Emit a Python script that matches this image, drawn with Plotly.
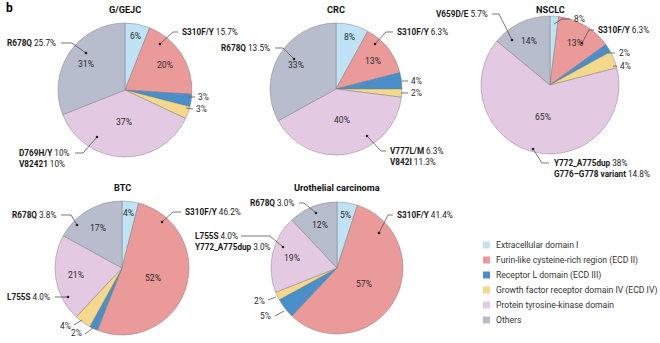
import math
import plotly.graph_objects as go

W, H = 660, 343

# ---------------- data ----------------
domain_names = [
    "Extracellular domain I",
    "Furin-like cysteine-rich region (ECD II)",
    "Receptor L domain (ECD III)",
    "Growth factor receptor domain IV (ECD IV)",
    "Protein tyrosine-kinase domain",
    "Others",
]
cancer_types = ["G/GEJC", "CRC", "NSCLC", "BTC", "Urothelial carcinoma"]

gejc_values = [6, 20, 3, 3, 37, 31]
crc_values = [8, 13, 4, 2, 40, 33]
nsclc_values = [2, 13, 2, 4, 65, 14]      # slice sizes as drawn
nsclc_printed = [8, 13, 2, 4, 65, 14]     # percentages printed on the chart
btc_values = [4, 52, 2, 4, 21, 17]
uro_values = [5, 57, 5, 2, 19, 12]

gejc_mutations = [[("S310F/Y", "15.7%")], [("R678Q", "25.7%")],
                  [("D769H/Y", "10%"), ("V82421", "10%")]]
crc_mutations = [[("S310F/Y", "6.3%")], [("R678Q", "13.5%")],
                 [("V777L/M", "6.3%"), ("V842I", "11.3%")]]
nsclc_mutations = [[("V659D/E", "5.7%")], [("S310F/Y", "6.3%")],
                   [("Y772_A775dup", "38%"), ("G776–G778 variant", "14.8%")]]
btc_mutations = [[("R678Q", "3.8%")], [("S310F/Y", "46.2%")], [("L755S", "4.0%")]]
uro_mutations = [[("R678Q", "3.0%")], [("S310F/Y", "41.4%")],
                 [("L755S", "4.0%"), ("Y772_A775dup", "3.0%")]]

colors = ["#BFE3F5", "#EA9A99", "#4A8FCA", "#F4D98C", "#E4C9E2", "#B8BDCD"]

# ---------------- layout config (pixel positions) ----------------
FONT = "Roboto"
TXT = "#1a1a1a"
LINE = "#555555"

pies = [
    dict(title=cancer_types[0], values=gejc_values, printed=gejc_values,
         cx=125, cy=90, r=67, ty=10, outside=[2, 3], muts=gejc_mutations,
         out_pos=[(196, 97, "left", [(189, 97), (195, 97)]),
                  (194, 109, "left", [(186, 108), (193, 109)])],
         mut_pos=[(180, 32, "left", [(178, 32), (173, 32), (160, 44)]),
                  (58, 43, "right", [(61, 43), (72, 43), (86, 53)]),
                  (17, 153, "left", [(75, 153), (83, 153), (97, 137)])]),
    dict(title=cancer_types[1], values=crc_values, printed=crc_values,
         cx=336, cy=89, r=66, ty=10, outside=[2, 3], muts=crc_mutations,
         out_pos=[(409, 81, "left", [(402, 81), (408, 81)]),
                  (409, 93, "left", [(401, 93), (408, 93)])],
         mut_pos=[(395, 32, "left", [(393, 32), (386, 32), (375, 44)]),
                  (272, 48, "right", [(275, 48), (283, 48), (294, 59)]),
                  (388, 151, "left", [(386, 151), (381, 151), (367, 136)])]),
    dict(title=cancer_types[2], values=nsclc_values, printed=nsclc_printed,
         cx=550, cy=85, r=69, ty=10, outside=[0, 2, 3], muts=nsclc_mutations,
         out_pos=[(572, 19, "left", [(554, 24), (562, 19), (570, 19)]),
                  (617, 53, "left", [(608, 53), (615, 53)]),
                  (618, 66, "left", [(613, 66), (617, 66)])],
         mut_pos=[(490, 14, "right", [(492, 14), (499, 14), (512, 40)]),
                  (596, 30, "left", [(594, 30), (589, 30), (582, 43)]),
                  (552, 163, "left", [(549, 163), (542, 163), (533, 149)])]),
    dict(title=cancer_types[3], values=btc_values, printed=btc_values,
         cx=122, cy=268, r=67, ty=187, outside=[2, 3], muts=btc_mutations,
         out_pos=[(84, 333, "right", [(85, 334), (93, 328)]),
                  (73, 326, "right", [(74, 325), (82, 320)])],
         mut_pos=[(58, 215, "right", [(61, 215), (71, 215), (77, 225)]),
                  (183, 212, "left", [(181, 212), (173, 212), (162, 222)]),
                  (52, 297, "right", [(55, 297), (68, 297)])]),
    dict(title=cancer_types[4], values=uro_values, printed=uro_values,
         cx=337, cy=268, r=66, ty=187, outside=[2, 3], muts=uro_mutations,
         out_pos=[(273, 316, "right", [(275, 316), (284, 311)]),
                  (267, 301, "right", [(268, 300), (276, 297)])],
         mut_pos=[(296, 203, "right", [(299, 203), (304, 203), (316, 213)]),
                  (395, 215, "left", [(393, 215), (388, 215), (379, 233)]),
                  (193, 236, "left", [(241, 236), (270, 236), (283, 247)])]),
]


def px(x, y):
    return x / W, 1 - y / H


def frac(v):
    return 0.82 if v < 10 else (0.70 if v < 35 else 0.48)


fig = go.Figure()
annotations = []
shapes = []


def add_text(x, y, text, anchor="center", size=8, color=TXT, bold=False):
    ax, ay = px(x, y)
    annotations.append(dict(
        x=ax, y=ay, xref="paper", yref="paper", text=("<b>%s</b>" % text) if bold else text,
        showarrow=False, xanchor=anchor, yanchor="middle",
        font=dict(family=FONT, size=size, color=color)))


def add_leader(points, dot=True):
    path = ""
    for i, (x, y) in enumerate(points):
        X, Y = px(x, y)
        path += ("M" if i == 0 else "L") + "%f,%f " % (X, Y)
    shapes.append(dict(type="path", path=path.strip(), xref="paper", yref="paper",
                       line=dict(color=LINE, width=0.8)))
    if dot:
        x, y = points[-1]
        x0, y0 = px(x - 1.3, y + 1.3)
        x1, y1 = px(x + 1.3, y - 1.3)
        shapes.append(dict(type="circle", xref="paper", yref="paper",
                           x0=x0, y0=y0, x1=x1, y1=y1,
                           fillcolor="#222", line=dict(width=0)))


for p in pies:
    cx, cy, r = p["cx"], p["cy"], p["r"]
    x0, yb = px(cx - r, cy + r)
    x1, yt = px(cx + r, cy - r)
    fig.add_trace(go.Pie(
        values=p["values"], labels=domain_names, sort=False, direction="clockwise",
        rotation=0, textinfo="none", hoverinfo="label+percent",
        marker=dict(colors=colors, line=dict(color="rgba(120,120,120,0.75)", width=0.6)),
        domain=dict(x=[x0, x1], y=[yb, yt]), showlegend=False))
    add_text(cx, p["ty"], p["title"], size=9.2, color="#111", bold=True)
    total = sum(p["values"])
    cum = 0
    for i, v in enumerate(p["values"]):
        mid = (cum + v / 2) / total * 2 * math.pi
        cum += v
        if i in p["outside"]:
            continue
        f = frac(v)
        add_text(cx + f * r * math.sin(mid), cy - f * r * math.cos(mid),
                 "%d%%" % p["printed"][i], size=8.6, color="#2a2a2a")
    for idx, (tx, ty, anc, pts) in zip(p["outside"], p["out_pos"]):
        add_text(tx, ty, "%d%%" % p["printed"][idx], anchor=anc, size=8.4, color="#2a2a2a")
        add_leader(pts, dot=False)
    for lines, (tx, ty, anc, pts) in zip(p["muts"], p["mut_pos"]):
        for k, (name, val) in enumerate(lines):
            add_text(tx, ty + 10.5 * k, "<b>%s</b> %s" % (name, val), anchor=anc, size=8.2)
        add_leader(pts, dot=True)

# panel letter
add_text(4, 8, "b", anchor="left", size=12, color="#000", bold=True)

# manual legend
for i, (name, c) in enumerate(zip(domain_names, colors)):
    y = 245 + 15 * i
    a0, b0 = px(483, y + 3.5)
    a1, b1 = px(490, y - 3.5)
    shapes.append(dict(type="rect", xref="paper", yref="paper", x0=a0, y0=b0, x1=a1, y1=b1,
                       fillcolor=c, line=dict(width=0)))
    add_text(494, y, name, anchor="left", size=8.6, color="#333")

fig.update_layout(
    width=W, height=H, margin=dict(l=0, r=0, t=0, b=0),
    paper_bgcolor="white", plot_bgcolor="white",
    annotations=annotations, shapes=shapes,
    font=dict(family=FONT),
)
fig.write_html("out.html")
